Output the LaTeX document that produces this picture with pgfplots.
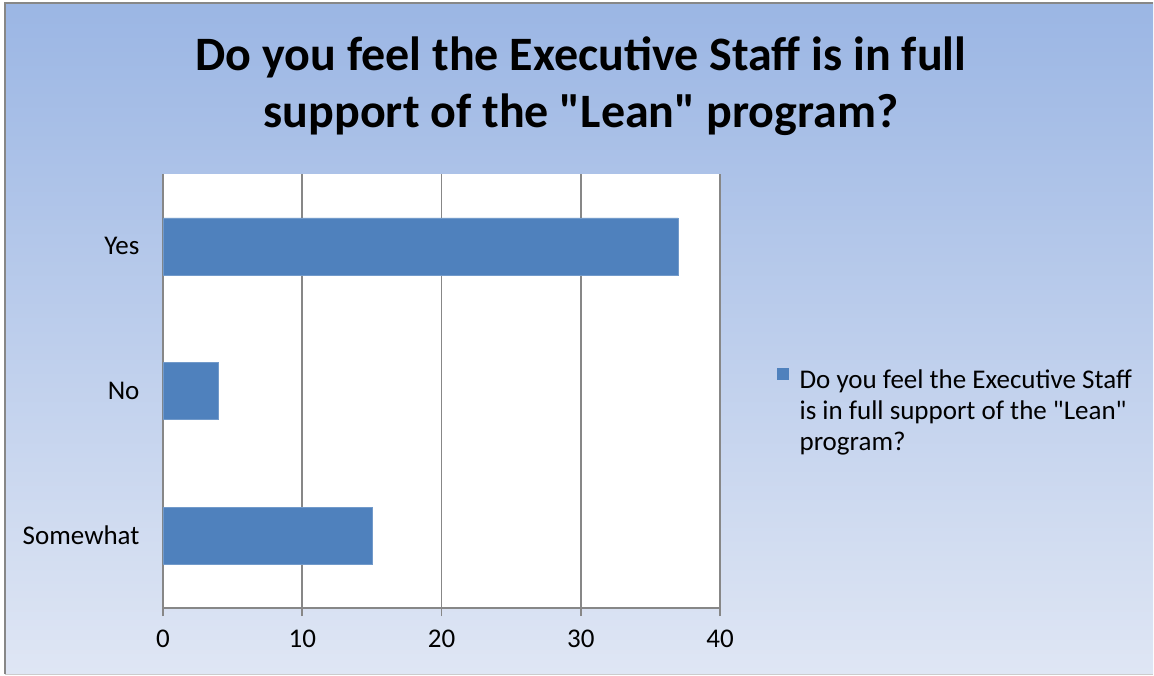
\documentclass[border=0pt]{standalone}
\usepackage{pgfplots}
\pgfplotsset{compat=1.18}
\usepackage{fontspec}
\setmainfont{Carlito}
\definecolor{barblue}{HTML}{4F81BD}
\definecolor{bgtop}{HTML}{9BB6E4}
\definecolor{bgbot}{HTML}{DFE6F4}
\definecolor{gridgray}{HTML}{878787}
\begin{document}
\begin{tikzpicture}
  % chart area background with vertical gradient
  \useasboundingbox (0pt,0pt) rectangle (1154pt,675pt);
  \shade[top color=bgtop, bottom color=bgbot] (5pt,1pt) rectangle (1153pt,672pt);
  \draw[gridgray, line width=1.5pt] (5pt,1pt) -- (5pt,672pt) -- (1153pt,672pt);
  \draw[gray!40, line width=1pt] (5pt,1pt) -- (1153pt,1pt);
  % title
  \node[font=\bfseries\fontsize{48}{57}\selectfont, align=center] at (581pt,589pt)
    {Do you feel the Executive Staff is in full\\support of the \textquotedbl Lean\textquotedbl{} program?};
  \begin{axis}[
    at={(163pt,139.33pt)}, anchor=origin,
    scale only axis, width=557pt, height=434pt,
    xmin=0, xmax=40, ymin=-0.5, ymax=2.5,
    xtick={0,10,20,30,40},
    ytick={0,1,2},
    yticklabels={Somewhat,No,Yes},
    minor ytick={-0.5,0.5,1.5,2.5},
    axis lines*=left,
    axis line style={draw=gridgray, line width=1.8pt, -},
    xmajorgrids,
    major grid style={draw=gridgray, line width=1.8pt},
    tick align=outside,
    major tick length=8pt,
    minor tick length=8pt,
    ytick style={draw=none},
    minor tick style={draw=gridgray, line width=1.8pt},
    xtick style={draw=gridgray, line width=1.8pt},
    axis background/.style={fill=white},
    tick label style={font=\fontsize{27}{32}\selectfont},
    /pgf/number format/assume math mode=true,
    xticklabel style={yshift=-10pt},
    yticklabel style={xshift=-12pt},
    xbar, bar width=57pt,
    legend style={draw=none, fill=none, inner sep=0pt, at={(1.1023,0.555)}, anchor=north west,
      font=\fontsize{27}{31}\selectfont, cells={anchor=north west},
      legend cell align=left},
    legend image code/.code={\fill[barblue] (0pt,0pt) rectangle (11pt,11pt);},
  ]
    \addplot[fill=barblue, draw=barblue!80!white] coordinates {(15,0) (4,1) (37,2)};
    \addlegendentry{\hspace{9pt}\parbox[t]{340pt}{Do you feel the Executive Staff\\is in full support of the \textquotedbl Lean\textquotedbl\\program?}}
  \end{axis}
\end{tikzpicture}
\end{document}
